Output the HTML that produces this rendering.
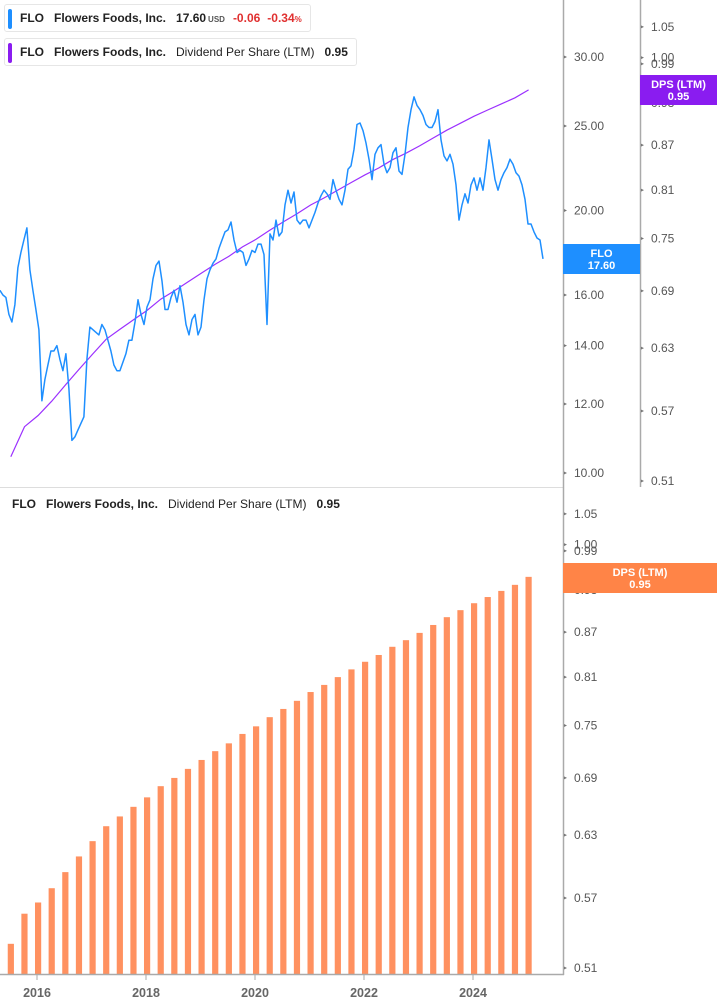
<!DOCTYPE html>
<html><head><meta charset="utf-8"><style>
body{margin:0;background:#fff;font-family:"Liberation Sans",sans-serif;}
svg text{font-family:"Liberation Sans",sans-serif;}
.leg{position:absolute;left:4px;height:26px;background:#fff;border:1px solid #e6e6e6;border-radius:3px;font-size:12px;font-weight:bold;color:#222;line-height:26px;white-space:nowrap;padding-right:8px}
.leg .bar{display:inline-block;width:4px;height:20px;vertical-align:middle;margin:0 8px 0 3px;border-radius:2px}
.leg span{margin-right:10px}
</style></head><body>
<svg id="c" width="717" height="1005" style="position:absolute;left:0;top:0"></svg>
<div class="leg" style="top:4px"><i class="bar" style="background:#1e8fff"></i><span>FLO</span><span>Flowers Foods, Inc.</span><span style="margin-right:2px">17.60</span><span style="font-size:8px;color:#555;margin-right:8px">USD</span><span style="color:#e03030;margin-right:7px">-0.06</span><span style="color:#e03030;margin-right:0">-0.34<small style="font-size:8px">%</small></span></div>
<div class="leg" style="top:38px"><i class="bar" style="background:#8a1cf0"></i><span>FLO</span><span>Flowers Foods, Inc.</span><span style="font-weight:normal">Dividend Per Share (LTM)</span><span style="margin-right:0">0.95</span></div>
<div class="leg" style="top:491px;border:none"><span style="margin-left:8px">FLO</span><span>Flowers Foods, Inc.</span><span style="font-weight:normal">Dividend Per Share (LTM)</span><span style="margin-right:0">0.95</span></div>
<script>
const priceStart=2015.32, priceStep=0.05505;
const prices=[16.2,16.0,15.9,15.2,14.9,15.6,17.2,17.9,18.5,19.1,17.1,16.2,15.4,14.6,12.1,12.8,13.3,13.8,13.8,14.0,13.5,13.1,13.7,12.5,10.9,11.0,11.2,11.4,11.6,13.5,14.7,14.6,14.5,14.4,14.8,14.6,14.2,13.8,13.3,13.1,13.1,13.4,13.7,14.2,14.2,14.9,15.8,15.2,14.8,15.5,15.8,16.7,17.3,17.5,16.6,15.4,15.4,15.9,16.2,15.7,16.4,15.7,14.8,14.4,15.0,15.2,14.4,14.7,15.8,16.7,17.1,17.4,17.6,18.1,18.5,18.9,19.0,19.4,18.5,17.9,18.0,17.9,17.3,17.6,18.0,17.9,18.3,18.3,17.8,14.8,18.8,18.5,19.5,18.7,18.9,20.3,21.1,20.4,21.0,19.5,19.3,19.5,19.5,19.1,19.5,19.9,20.4,20.8,21.1,20.9,20.6,21.7,21.1,20.6,20.3,21.1,22.3,22.5,23.5,25.1,25.2,24.7,23.9,22.9,21.7,23.2,23.6,23.8,22.6,22.1,22.4,23.3,23.6,22.2,22.0,23.2,24.9,26.1,27.0,26.4,26.1,25.7,25.1,24.9,24.9,25.3,26.1,24.1,23.1,22.8,23.2,22.6,21.4,19.5,20.3,20.9,20.4,21.4,21.8,21.1,21.8,21.1,22.4,24.1,22.9,21.7,21.1,21.7,22.1,22.4,22.9,22.6,22.1,21.9,21.4,20.6,19.3,19.3,18.9,18.6,18.5,17.6];
const dpsStart=2015.52, dpsStep=0.25;
const dps=[0.530,0.556,0.566,0.579,0.594,0.609,0.624,0.639,0.649,0.659,0.669,0.681,0.690,0.700,0.710,0.720,0.729,0.740,0.749,0.760,0.770,0.780,0.791,0.800,0.810,0.820,0.830,0.839,0.850,0.859,0.869,0.880,0.891,0.901,0.911,0.920,0.929,0.938,0.950];
const priceTicks=[30,25,20,18,16,14,12,10];
const dpsTicks=[1.05,1.00,0.99,0.93,0.87,0.81,0.75,0.69,0.63,0.57,0.51];
const yearTicks=[2016,2018,2020,2022,2024];

const NS="http://www.w3.org/2000/svg",svg=document.getElementById('c');
function el(t,a,p){const e=document.createElementNS(NS,t);for(const k in a)e.setAttribute(k,a[k]);(p||svg).appendChild(e);return e;}
const X=yr=>37+54.5*(yr-2016);
const Yp=p=>473-378.7*Math.log(p/10);
const Yd=v=>481-628.8*Math.log(v/0.51);
const Yb=v=>968-628.8*Math.log(v/0.51);

dps.forEach((v,i)=>{const x=X(dpsStart+i*dpsStep);
 const r=el('rect',{x:x-3.1,y:Yb(v),width:6.2,height:974-Yb(v),fill:'#ff9160'});
 
 });
let d='';dps.forEach((v,i)=>{d+=(i?'L':'M')+X(dpsStart+i*dpsStep).toFixed(1)+','+Yd(v).toFixed(1);});
const pl=el('path',{d:d,fill:'none',stroke:'#9b30ff','stroke-width':1.2});


d='';prices.forEach((p,i)=>{d+=(i?'L':'M')+X(priceStart+i*priceStep).toFixed(1)+','+Yp(p).toFixed(1);});
const bl=el('path',{d:d,fill:'none',stroke:'#1e8fff','stroke-width':1.5,'stroke-linejoin':'round'});


el('line',{x1:0,y1:487.5,x2:563,y2:487.5,stroke:'#ddd'});
el('line',{x1:563.5,y1:0,x2:563.5,y2:975,stroke:'#aaa','stroke-width':1.5});
el('line',{x1:640.5,y1:0,x2:640.5,y2:487,stroke:'#aaa','stroke-width':1.5});
el('line',{x1:0,y1:974.5,x2:564,y2:974.5,stroke:'#aaa','stroke-width':1.5});
priceTicks.forEach(t=>{const y=Yp(t);el('path',{d:`M564,${y-1.5}L567,${y}L564,${y+1.5}`,fill:'#777'});
 const tx=el('text',{x:574,y:y+4,'font-size':12,fill:'#555'});tx.textContent=t.toFixed(2);
 
 });
dpsTicks.forEach(t=>{const y=Yd(t);el('path',{d:`M641,${y-1.5}L644,${y}L641,${y+1.5}`,fill:'#777'});
 const tx=el('text',{x:651,y:y+4,'font-size':12,fill:'#555'});tx.textContent=t.toFixed(2);
 
 
 const yb=Yb(t);el('path',{d:`M564,${yb-1.5}L567,${yb}L564,${yb+1.5}`,fill:'#777'});
 const tb=el('text',{x:574,y:yb+4,'font-size':12,fill:'#555'});tb.textContent=t.toFixed(2);
 
 });
yearTicks.forEach(yr=>{const x=X(yr);el('line',{x1:x,y1:975,x2:x,y2:980,stroke:'#aaa'});
 const tx=el('text',{x:x,y:997,'font-size':12.5,'font-weight':'bold',fill:'#666','text-anchor':'middle'});tx.textContent=yr;
 
 });
function badge(x,y,w,c,a,b,name){const g=el('g',{});
 el('rect',{x:x,y:y,width:w,height:30,fill:c},g);
 const t1=el('text',{x:x+w/2,y:y+13,'font-size':11,'font-weight':'bold',fill:'#fff','text-anchor':'middle'},g);t1.textContent=a;
 const t2=el('text',{x:x+w/2,y:y+25,'font-size':11,'font-weight':'bold',fill:'#fff','text-anchor':'middle'},g);t2.textContent=b;}
badge(563,244,77,'#1e8fff','FLO',prices[prices.length-1].toFixed(2),'price-badge');
badge(640,75,77,'#8a1cf0','DPS (LTM)',dps[dps.length-1].toFixed(2),'dps-badge-top');
badge(563,563,154,'#ff8447','DPS (LTM)',dps[dps.length-1].toFixed(2),'dps-badge-bottom');
</script>
</body></html>
